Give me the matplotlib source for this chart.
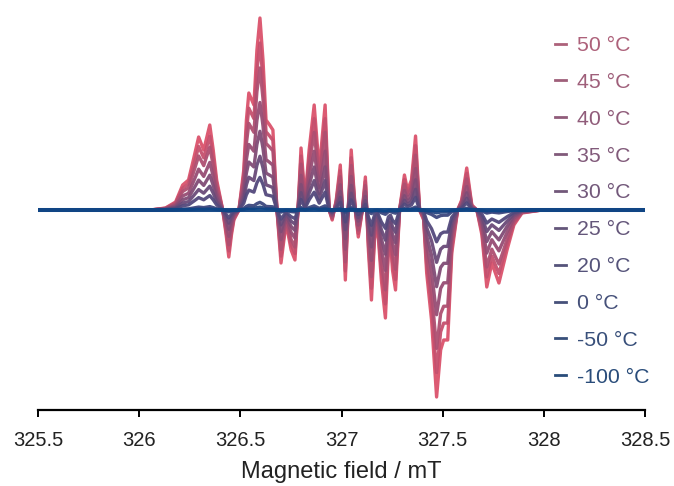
import numpy as np
import matplotlib
matplotlib.use("Agg")
import matplotlib.pyplot as plt
from matplotlib.lines import Line2D
from matplotlib.colors import to_hex

# ---------------- data ----------------
temps = ["50 °C", "45 °C", "40 °C", "35 °C", "30 °C", "25 °C",
         "20 °C", "0 °C", "-50 °C", "-100 °C"]
# relative amplitude of each spectrum (50 °C = 1)
rel_amp = [1.0, 0.87, 0.74, 0.56, 0.41, 0.28, 0.17, 0.04, 0.015, 0.0]

# 50 °C spectrum: magnetic field (mT) and signal (arb. units)
field = [325.500, 325.783, 326.056, 326.130, 326.180, 326.215, 326.244, 326.270,
         326.294, 326.319, 326.349, 326.366, 326.383, 326.413, 326.430, 326.443,
         326.456, 326.468, 326.493, 326.517, 326.530, 326.542, 326.567, 326.582,
         326.597, 326.612, 326.627, 326.645, 326.661, 326.681, 326.701, 326.726,
         326.751, 326.770, 326.785, 326.800, 326.820, 326.840, 326.865, 326.890,
         326.919, 326.939, 326.954, 326.974, 326.994, 327.009, 327.019, 327.033,
         327.048, 327.068, 327.083, 327.103, 327.118, 327.133, 327.148, 327.163,
         327.177, 327.197, 327.217, 327.232, 327.242, 327.252, 327.267, 327.287,
         327.311, 327.326, 327.346, 327.366, 327.386, 327.406, 327.421, 327.445,
         327.470, 327.490, 327.505, 327.525, 327.545, 327.574, 327.594, 327.619,
         327.644, 327.669, 327.694, 327.718, 327.743, 327.778, 327.818, 327.852,
         327.892, 327.991, 328.500]
signal = [0, 0, 0, 2, 8, 25, 30, 52,
          73, 60, 85, 60, 30, 0, -25, -47,
          -25, -10, 0, 40, 90, 117, 105, 160,
          192, 150, 90, 85, 80, 0, -53, -13,
          -40, -50, 0, 62, 10, 60, 105, 40,
          105, 0, -10, 10, 45, -20, -70, 0,
          60, 0, -27, 0, 33, -40, -90, -30,
          -13, -70, -108, -40, -30, -60, -80, 0,
          35, 20, 30, 74, 0, -10, -63, -110,
          -187, -140, -130, -130, -43, 0, 10, 42,
          5, 0, -25, -77, -53, -73, -40, -15,
          -3, 0, 0]

xticks = [325.5, 326, 326.5, 327, 327.5, 328, 328.5]
xtick_labels = ["325.5", "326", "326.5", "327", "327.5", "328", "328.5"]

# ---------------- style ----------------
plt.rcParams['font.family'] = ['Liberation Sans', 'DejaVu Sans']

W, H = 674, 486
fig = plt.figure(figsize=(W / 100, H / 100), dpi=100)
ax = fig.add_axes([38 / W, 1 - 410 / H, (645 - 38) / W, 400 / H])

red = np.array([0.86, 0.32, 0.42])
blue = np.array([0.06, 0.27, 0.52])
red_txt = np.array([0.68, 0.38, 0.48])
blue_txt = np.array([0.16, 0.30, 0.48])
n = len(temps)
line_cols = [to_hex(red + (blue - red) * i / (n - 1)) for i in range(n)]
text_cols = [to_hex(red_txt + (blue_txt - red_txt) * i / (n - 1)) for i in range(n)]

f = np.array(field)
s = np.array(signal, dtype=float)
for i in range(n):
    lw = 2.4 if i < n - 1 else 2.9
    ax.plot(f, s * rel_amp[i], color=line_cols[i], lw=lw, alpha=0.95,
            solid_joinstyle='round', solid_capstyle='round', zorder=2 + i)

ax.set_xlim(325.5, 328.5)
ax.set_ylim(-200, 200)
ax.set_yticks([])
for sp in ['left', 'right', 'top']:
    ax.spines[sp].set_visible(False)
ax.spines['bottom'].set_linewidth(1.6)
ax.set_xticks(xticks)
ax.set_xticklabels(xtick_labels, fontsize=14.5, color='#222222')
ax.tick_params(axis='x', length=5, width=1.4, pad=10)
ax.set_xlabel("Magnetic field / mT", fontsize=17, color='#222222', labelpad=8)

handles = [Line2D([0], [0], color=text_cols[i], lw=2.0) for i in range(n)]
leg = ax.legend(handles, temps, loc='upper left', bbox_to_anchor=(555 / W, 1 - 36 / H),
                bbox_transform=fig.transFigure, frameon=False, fontsize=15.3,
                handlelength=0.5, handletextpad=0.55, labelspacing=0.84,
                borderpad=0, borderaxespad=0, labelcolor=text_cols)
leg.set_zorder(1)

fig.savefig("out.png", dpi=100)
